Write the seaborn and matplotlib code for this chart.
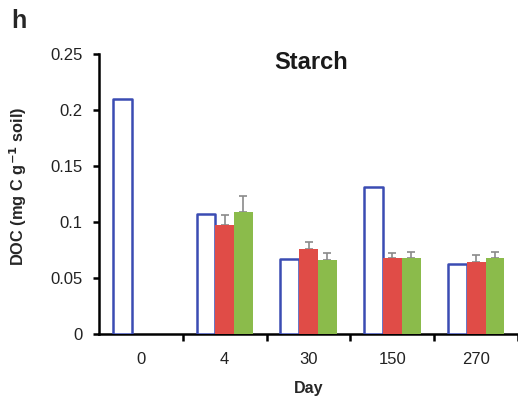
import matplotlib
matplotlib.use("Agg")
import matplotlib.pyplot as plt
import seaborn as sns
import pandas as pd
import numpy as np

days = ["0", "4", "30", "150", "270"]
series = ["S1", "S2", "S3"]
values = {
    "S1": [0.210, 0.107, 0.067, 0.131, 0.062],
    "S2": [np.nan, 0.097, 0.0755, 0.0675, 0.0645],
    "S3": [np.nan, 0.109, 0.066, 0.068, 0.068],
}
errors = {
    "S1": [np.nan, np.nan, np.nan, np.nan, np.nan],
    "S2": [np.nan, 0.009, 0.007, 0.0045, 0.006],
    "S3": [np.nan, 0.014, 0.006, 0.0055, 0.0055],
}
face_colors = {"S1": "white", "S2": "#e04c47", "S3": "#8bbb4b"}
edge_colors = {"S1": "#3b4cb3", "S2": "#e04c47", "S3": "#8bbb4b"}

rows = []
for s in series:
    for d, v in zip(days, values[s]):
        rows.append({"Day": d, "Series": s, "DOC": v})
df = pd.DataFrame(rows)

sns.set_style("white")
plt.rcParams["font.family"] = ["Liberation Sans", "DejaVu Sans"]

fig = plt.figure(figsize=(5.18, 3.99), dpi=100)
ax = fig.add_axes([0.191, 0.163, 0.811, 0.702])

sns.barplot(data=df, x="Day", y="DOC", hue="Series", order=days,
            hue_order=series, width=0.67, ax=ax, legend=False,
            palette=[face_colors[s] for s in series], saturation=1, errorbar=None)

# style patches and add error bars
for s, cont in zip(series, ax.containers):
    xs, ys, es = [], [], []
    for patch in cont.patches:
        cx = patch.get_x() + patch.get_width() / 2
        h = patch.get_height()
        if np.isnan(h):
            continue
        idx = int(round(cx))
        patch.set_facecolor(face_colors[s])
        if s == "S1":
            patch.set_edgecolor(edge_colors[s])
            patch.set_linewidth(1.8)
            patch.set_joinstyle("round")
        else:
            patch.set_edgecolor("none")
        patch.set_zorder(3)
        e = errors[s][idx]
        if not np.isnan(e):
            xs.append(cx)
            ys.append(h)
            es.append(e)
    if xs:
        ax.errorbar(xs, ys, yerr=[np.zeros(len(es)), es], fmt="none",
                    ecolor="#8a8a8a", elinewidth=1.2, capsize=3, capthick=1.2,
                    zorder=2)

ax.set_ylim(0, 0.25)
ax.set_xlim(-0.5, 4.51)
ax.set_yticks([0, 0.05, 0.1, 0.15, 0.2, 0.25])
ax.set_yticklabels(["0", "0.05", "0.1", "0.15", "0.2", "0.25"])
ax.set_xticks(np.arange(len(days)))
ax.set_xticklabels(days)
ax.set_xticks(np.arange(len(days)) + 0.5, minor=True)

for side in ["top", "right"]:
    ax.spines[side].set_visible(False)
for side in ["left", "bottom"]:
    ax.spines[side].set_color("black")
    ax.spines[side].set_linewidth(1.8)

ax.tick_params(axis="y", which="major", direction="out", length=4, width=1.8,
               colors="black", labelsize=12, labelcolor="#222222", pad=8, left=True)
ax.tick_params(axis="x", which="major", length=0, labelsize=12,
               labelcolor="#222222", pad=13)
ax.tick_params(axis="x", which="minor", direction="out", length=5, width=1.8,
               colors="black", bottom=True)

ax.set_xlabel("Day", fontsize=11.5, fontweight="bold", labelpad=10)
ax.set_ylabel("DOC (mg C g$^{\\mathbf{-1}}$ soil)", fontsize=11.8, fontweight="bold")
ax.yaxis.set_label_coords(-0.167, 0.529)
ax.text(0.505, 0.97, "Starch", transform=ax.transAxes, fontsize=17,
        fontweight="bold", ha="center", va="center", color="#1a1a1a")

fig.text(0.022, 0.977, "h", fontsize=18, fontweight="bold", va="top", ha="left")

fig.savefig("out.png", dpi=100)
